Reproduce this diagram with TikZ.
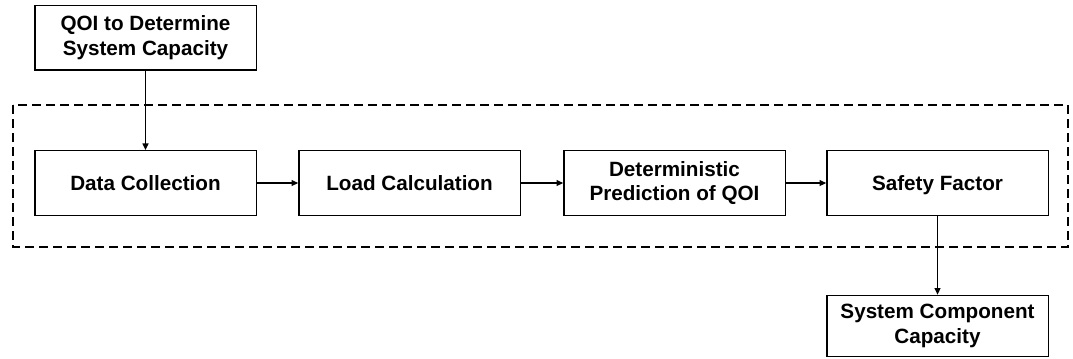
\documentclass[tikz,border=0pt]{standalone}
\usepackage{fontspec}
\setmainfont{Liberation Sans}
\usetikzlibrary{arrows.meta}
\begin{document}
\begin{tikzpicture}[x=0.75pt,y=-0.75pt,
  stepbox/.style={draw=black,line width=1pt,minimum width=166pt,minimum height=48.5pt,
    inner sep=0pt,align=center,font=\fontsize{15.5}{18.5}\selectfont\bfseries},
  oneline/.style={text depth=0pt},
  flow/.style={draw=black,line width=1pt,-{Triangle[length=5pt,width=4.5pt]}},
  group/.style={draw=black,line width=0.9pt,dash pattern=on 6.5pt off 4pt}]
\useasboundingbox (0,0) rectangle (1073,358);
% dashed frame around the deterministic chain
\draw[group] (13,105) rectangle (1068,247);
% blocks
\node[stepbox] (qoi)  at (145.5,37.5) {QOI to Determine\\System Capacity};
\node[stepbox,oneline] (data) at (145.5,183) {Data Collection};
\node[stepbox,oneline] (load) at (409.5,183) {Load Calculation};
\node[stepbox] (det)  at (674.5,183) {Deterministic\\Prediction of QOI};
\node[stepbox,oneline] (sf)   at (937.5,183) {Safety Factor};
\node[stepbox,minimum height=46pt] (cap) at (937.5,326) {System Component\\Capacity};
% connectors
\draw[flow] (qoi) -- (data);
\draw[flow] (data) -- (load);
\draw[flow] (load) -- (det);
\draw[flow] (det) -- (sf);
\draw[flow] (sf) -- (cap);
\end{tikzpicture}
\end{document}
